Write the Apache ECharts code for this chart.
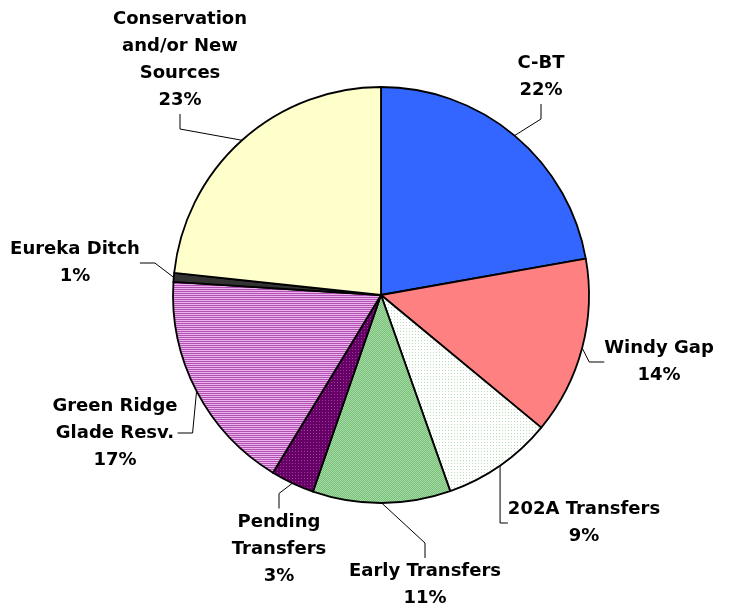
<!DOCTYPE html>
<html>
<head>
<meta charset="utf-8">
<script src="https://cdn.jsdelivr.net/npm/echarts@6/dist/echarts.min.js"></script>
<style>
  html, body { margin: 0; padding: 0; background: #fff; }
  #chart { width: 732px; height: 610px; }
</style>
</head>
<body>
<div id="chart"></div>
<script>
// slice names and values (clockwise from 12 o'clock)
const categories = [
  'C-BT',
  'Windy Gap',
  '202A Transfers',
  'Early Transfers',
  'Pending\nTransfers',
  'Green Ridge\nGlade Resv.',
  'Eureka Ditch',
  'Conservation\nand/or New\nSources'
]
const shares = [22.2, 13.8, 8.6, 10.7, 3.4, 17.3, 0.7, 23.3]

// where each label block sits (centre of the text)
const labelPos = [
  [541, 77], [659, 362], [584, 523], [425, 585],
  [279, 549], [115, 433], [75, 263], [180, 60]
]

// small tiled fills, like the old office patterns
function makePattern(w, h, bg, fg, cells) {
  const c = document.createElement('canvas')
  c.width = w
  c.height = h
  const ctx = c.getContext('2d')
  ctx.fillStyle = bg
  ctx.fillRect(0, 0, w, h)
  ctx.fillStyle = fg
  cells.forEach(p => ctx.fillRect(p[0], p[1], 1, 1))
  return { image: c, repeat: 'repeat' }
}

function stripes() {
  const c = document.createElement('canvas')
  c.width = 4
  c.height = 2
  const ctx = c.getContext('2d')
  ctx.fillStyle = '#ecb4ec'
  ctx.fillRect(0, 0, 4, 1)
  ctx.fillStyle = '#b24fb2'
  ctx.fillRect(0, 1, 4, 1)
  return { image: c, repeat: 'repeat' }
}

const fills = [
  '#3366ff',
  '#ff8080',
  makePattern(3, 3, '#ffffff', '#b8dcb8', [[1, 1]]),
  makePattern(2, 2, '#78c078', '#a6daa6', [[0, 0], [1, 1]]),
  makePattern(3, 3, '#660066', '#9a3a9a', [[1, 1]]),
  stripes(),
  '#333333',
  '#ffffcc'
]

const chart = echarts.init(document.getElementById('chart'))

chart.setOption({
  animation: false,
  backgroundColor: '#ffffff',
  series: [{
    type: 'pie',
    center: [381, 295],
    radius: 208,
    startAngle: 90,
    clockwise: true,
    percentPrecision: 0,
    avoidLabelOverlap: false,
    itemStyle: {
      borderColor: '#000',
      borderWidth: 1.8
    },
    label: {
      show: true,
      position: 'outside',
      formatter: '{b}\n{d}%',
      color: '#000',
      fontFamily: 'DejaVu Sans',
      fontWeight: 'bold',
      fontSize: 18,
      lineHeight: 27,
      align: 'center'
    },
    labelLine: {
      show: true,
      length: 15,
      length2: 15,
      lineStyle: { color: '#000', width: 1 }
    },
    labelLayout: function (params) {
      const p = labelPos[params.dataIndex]
      return { x: p[0], y: p[1], align: 'center', verticalAlign: 'middle' }
    },
    data: categories.map((name, i) => ({
      name: name,
      value: shares[i],
      itemStyle: { color: fills[i] }
    }))
  }]
})
</script>
</body>
</html>
